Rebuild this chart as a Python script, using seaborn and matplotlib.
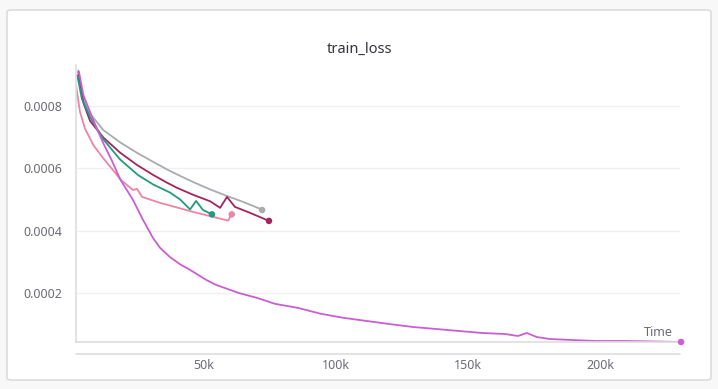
import numpy as np
import pandas as pd
import seaborn as sns
import matplotlib.pyplot as plt
from matplotlib.patches import FancyBboxPatch
from matplotlib.ticker import FuncFormatter

# step values (x) and train loss (y) per run
gray_x = [2400, 4300, 6800, 11900, 18200, 24500, 30800, 36000, 39800, 45800, 52300, 58700,
          64800, 71200, 72000]
gray_y = [0.000914, 0.000823, 0.000775, 0.000722, 0.000683, 0.000650, 0.000620, 0.000596,
          0.000580, 0.000556, 0.000532, 0.000511, 0.000492, 0.000470, 0.000466]

crimson_x = [2400, 4300, 6800, 11900, 18200, 24500, 30800, 35900, 39800, 45800, 52300, 56100,
             58700, 61700, 67400, 74600]
crimson_y = [0.000909, 0.000810, 0.000752, 0.000698, 0.000650, 0.000611, 0.000578, 0.000554,
             0.000537, 0.000515, 0.000494, 0.000473, 0.000508, 0.000476, 0.000457, 0.000431]

teal_x = [2000, 3700, 6800, 11900, 18200, 25000, 30700, 37100, 40900, 44700, 47000, 49600, 53000]
teal_y = [0.000898, 0.000823, 0.000765, 0.000692, 0.000628, 0.000578, 0.000548, 0.000522,
          0.000500, 0.000468, 0.000495, 0.000466, 0.000452]

pink_x = [1500, 3000, 4900, 8100, 11900, 18800, 23100, 24600, 26500, 33300, 45800, 59100, 60500]
pink_y = [0.000866, 0.000781, 0.000727, 0.000674, 0.000631, 0.000560, 0.000530, 0.000534,
          0.000508, 0.000489, 0.000460, 0.000432, 0.000452]

purple_x = [2600, 4300, 6800, 9400, 11900, 15000, 18200, 23100, 26900, 30700, 33300, 37100,
            40900, 44700, 50800, 54500, 63100, 70100, 72700, 76900, 85600, 94300, 103000,
            111700, 120500, 129200, 137900, 146600, 155300, 164000, 168900, 172300, 176000,
            181000, 189800, 198500, 209000, 216000, 230700]
purple_y = [0.000909, 0.000834, 0.000781, 0.000727, 0.000679, 0.000626, 0.000565, 0.000498,
            0.000434, 0.000376, 0.000345, 0.000315, 0.000292, 0.000274, 0.000242, 0.000226,
            0.000200, 0.000184, 0.000177, 0.000165, 0.000152, 0.000133, 0.000120, 0.000110,
            0.000100, 0.0000908, 0.0000844, 0.0000780, 0.0000716, 0.0000684, 0.0000620,
            0.0000716, 0.0000587, 0.0000523, 0.0000490, 0.0000459, 0.0000459, 0.0000450,
            0.0000427]

runs = {
    "run-gray": (gray_x, gray_y),
    "run-crimson": (crimson_x, crimson_y),
    "run-teal": (teal_x, teal_y),
    "run-pink": (pink_x, pink_y),
    "run-purple": (purple_x, purple_y),
}
palette = {
    "run-gray": "#a7acb2",
    "run-crimson": "#a3245f",
    "run-teal": "#229a82",
    "run-pink": "#ee84a4",
    "run-purple": "#c95fd0",
}

df = pd.concat([pd.DataFrame({"run": k, "step": v[0], "loss": v[1]}) for k, v in runs.items()])
ends = df.groupby("run", sort=False).tail(1)

sns.set_style("white")
plt.rcParams["font.family"] = ["Noto Sans", "DejaVu Sans"]

fig = plt.figure(figsize=(7.18, 3.89), dpi=100)
fig.patch.set_facecolor("#f8f8f8")
W, H = 718, 389
card = FancyBboxPatch((7 / W, 9 / H), 704 / W, 370 / H,
                      boxstyle="round,pad=0,rounding_size=0.006",
                      transform=fig.transFigure, facecolor="white",
                      edgecolor="#d6d6d6", linewidth=1.0, zorder=-10)
fig.patches.append(card)

ax = fig.add_axes([76 / W, 1 - 342 / H, 604 / W, 277 / H])
ax.set_facecolor("none")
ax.set_zorder(5)

sns.lineplot(data=df, x="step", y="loss", hue="run", palette=palette,
             linewidth=1.3, legend=False, ax=ax, sort=False, estimator=None)
sns.scatterplot(data=ends, x="step", y="loss", hue="run", palette=palette,
                s=22, linewidth=0, legend=False, ax=ax, clip_on=False, zorder=5)

ax.set_xlim(1500, 230300)
ax.set_ylim(0.0000427, 0.000931)
ax.set_xticks([50000, 100000, 150000, 200000])
ax.set_yticks([0.0002, 0.0004, 0.0006, 0.0008])
ax.xaxis.set_major_formatter(FuncFormatter(lambda v, p: f"{int(v / 1000)}k"))
ax.yaxis.set_major_formatter(FuncFormatter(lambda v, p: f"{v:.4f}"))
ax.set_xlabel("")
ax.set_ylabel("")

ax.grid(axis="y", color="#f0f0f0", linewidth=1.0)
ax.set_axisbelow(True)
for s in ["top", "right"]:
    ax.spines[s].set_visible(False)
for s in ["left", "bottom"]:
    ax.spines[s].set_color("#dedede")
    ax.spines[s].set_linewidth(1.2)

ax.tick_params(axis="x", direction="in", length=4.5, width=0.8, color="#dedede",
               labelsize=9, labelcolor="#6b6b76", pad=12)
ax.tick_params(axis="y", direction="out", length=4.3, width=0.8, color="#eeeeee",
               labelsize=9, labelcolor="#6b6b76", pad=5.5)

# second baseline under the x axis
ax.plot([0, 1], [-12 / 277, -12 / 277], transform=ax.transAxes, color="#dedede",
        linewidth=1.2, clip_on=False)

ax.text(0.988, 0.036, "Time", transform=ax.transAxes, ha="right", va="center",
        fontsize=9, color="#6b6b76")
fig.text(359 / W, 1 - 49 / H, "train_loss", ha="center", va="center",
         fontsize=10.5, fontweight="semibold", color="#33333c")

fig.savefig("out.png", dpi=100, facecolor=fig.get_facecolor())
